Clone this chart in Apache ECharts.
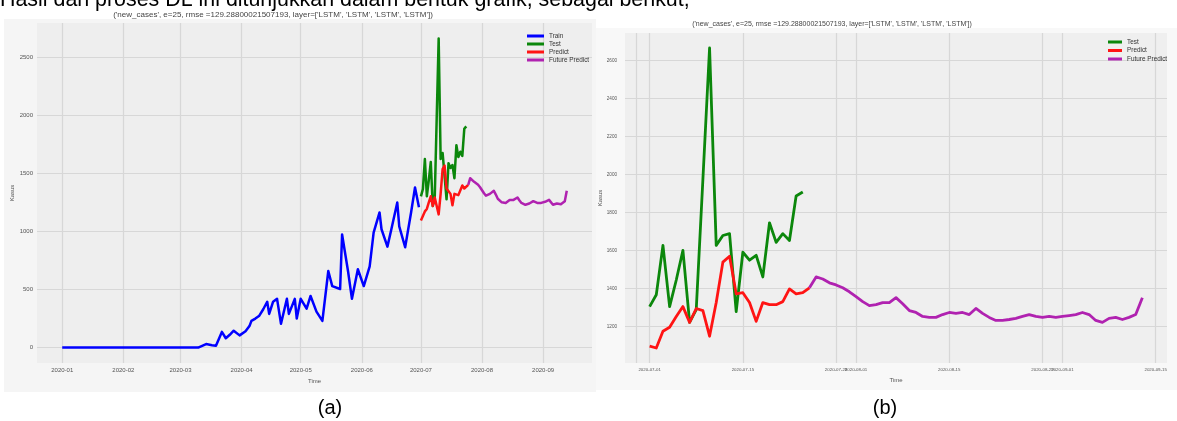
<!DOCTYPE html>
<html>
<head>
<meta charset="utf-8">
<script src="https://cdn.jsdelivr.net/npm/echarts@6/dist/echarts.min.js"></script>
<style>
  html, body { margin: 0; padding: 0; background: #ffffff; }
  #chart { width: 1177px; height: 421px; }
</style>
</head>
<body>
<div id="chart"></div>
<script>
// ---- data: daily new cases ----
// Training history (vertices of the train curve)
const trainDates = [
  '2020-01-01', '2020-03-10', '2020-03-14', '2020-03-17', '2020-03-19', '2020-03-22',
  '2020-03-24', '2020-03-26', '2020-03-28', '2020-03-31', '2020-04-03', '2020-04-05',
  '2020-04-06', '2020-04-08', '2020-04-10', '2020-04-12', '2020-04-14', '2020-04-15',
  '2020-04-17', '2020-04-19', '2020-04-21', '2020-04-24', '2020-04-25', '2020-04-28',
  '2020-04-29', '2020-05-01', '2020-05-04', '2020-05-06', '2020-05-09', '2020-05-12',
  '2020-05-15', '2020-05-17', '2020-05-21', '2020-05-22', '2020-05-25', '2020-05-27',
  '2020-05-30', '2020-06-02', '2020-06-05', '2020-06-07', '2020-06-10', '2020-06-11',
  '2020-06-14', '2020-06-16', '2020-06-19', '2020-06-20', '2020-06-23', '2020-06-26',
  '2020-06-28', '2020-06-30'
];
const trainValues = [
  0, 0, 30, 20, 15, 135,
  80, 110, 145, 105, 140, 185,
  230, 250, 275, 330, 395, 290,
  395, 420, 205, 420, 290, 420,
  250, 420, 335, 445, 310, 230,
  660, 530, 505, 975, 660, 420,
  675, 530, 700, 990, 1165, 1020,
  870, 1020, 1250, 1045, 865, 1165,
  1380, 1210
];

// Test set (daily from testStart)
const testStart = '2020-07-01';
const testValues = [
  1304, 1366, 1626, 1304, 1444, 1600, 1221, 1288, 1974, 2665, 1626, 1678,
  1688, 1278, 1590, 1548, 1574, 1460, 1745, 1642, 1688, 1652, 1886, 1907
];

// Model prediction over the test period (daily from testStart)
const predictValues = [
  1096, 1086, 1174, 1195, 1252, 1304, 1221, 1294, 1283, 1148, 1325, 1538,
  1569, 1371, 1377, 1325, 1226, 1325, 1314, 1314, 1330, 1397, 1371, 1377, 1403
];

// Forecast beyond the test period (daily from futureStart)
const futureStart = '2020-07-25';
const futureValues = [
  1403, 1460, 1449, 1429, 1418, 1403, 1382, 1356, 1330, 1309, 1314, 1325, 1325,
  1351, 1319, 1283, 1273, 1252, 1247, 1247, 1262, 1273, 1268, 1273, 1262, 1294,
  1268, 1247, 1231, 1231, 1236, 1242, 1252, 1262, 1252, 1247, 1252, 1247, 1252,
  1257, 1262, 1273, 1262, 1231, 1221, 1242, 1247, 1236, 1247, 1262, 1351
];

// Tick positions
const monthTicks = ['2020-01-01', '2020-02-01', '2020-03-01', '2020-04-01', '2020-05-01',
                    '2020-06-01', '2020-07-01', '2020-08-01', '2020-09-01'];
const detailTicks = ['2020-06-29', '2020-07-01', '2020-07-15', '2020-07-29', '2020-08-01',
                     '2020-08-15', '2020-08-29', '2020-09-01', '2020-09-15'];
const yTicksFull = [0, 500, 1000, 1500, 2000, 2500];
const yTicksDetail = [1200, 1400, 1600, 1800, 2000, 2200, 2400, 2600];

const headingText = 'Hasil dari proses DL ini ditunjukkan dalam bentuk grafik, sebagai berikut;';
const plotTitle = "('new_cases', e=25, rmse =129.28800021507193, layer=['LSTM', 'LSTM', 'LSTM', 'LSTM'])";
const seriesNames = ['Train', 'Test', 'Predict', 'Future Predict'];
const colors = { 'Train': '#0000ff', 'Test': '#0b870b', 'Predict': '#ff1414', 'Future Predict': '#b022b0' };

// ---- helpers: dates are placed on a day-number axis (days since EPOCH) ----
const DAY = 86400000;
const EPOCH = '2020-01-01';
function ms(s) {
  const p = s.split('-').map(Number);
  return Date.UTC(p[0], p[1] - 1, p[2]);
}
function dayNum(s) { return Math.round((ms(s) - ms(EPOCH)) / DAY); }
function daily(start, values) {
  const d0 = dayNum(start);
  return values.map((v, i) => [d0 + i, v]);
}
function pad2(n) { return (n < 10 ? '0' : '') + n; }
function toDate(n) { return new Date(ms(EPOCH) + Math.round(n) * DAY); }
function fmtMonth(n) { const d = toDate(n); return d.getUTCFullYear() + '-' + pad2(d.getUTCMonth() + 1); }
function fmtDay(n) { const d = toDate(n); return d.getUTCFullYear() + '-' + pad2(d.getUTCMonth() + 1) + '-' + pad2(d.getUTCDate()); }
function fmtPlain(v) { return String(Math.round(v)); }
function padded(lo, hi) { const m = (hi - lo) * 0.05; return [lo - m, hi + m]; }

const trainData = trainDates.map((d, i) => [dayNum(d), trainValues[i]]);
const testData = daily(testStart, testValues);
const predictData = daily(testStart, predictValues);
const futureData = daily(futureStart, futureValues);

const lastDay = futureData[futureData.length - 1][0];
const xRangeA = padded(trainData[0][0], lastDay);
const xRangeB = padded(testData[0][0], lastDay);
const allA = trainValues.concat(testValues, predictValues, futureValues);
const allB = testValues.concat(predictValues, futureValues);
const yRangeA = padded(Math.min.apply(null, allA), Math.max.apply(null, allA));
const yRangeB = padded(Math.min.apply(null, allB), Math.max.apply(null, allB));

const FONT = '"Liberation Sans", Arial, sans-serif';
const gridLine = { show: true, lineStyle: { color: '#d7d7d7', width: 1.2 } };

function xAxisCfg(gridIndex, range, ticks, fmt, fontSize, margin) {
  const tv = ticks.map(dayNum);
  return {
    type: 'value', gridIndex: gridIndex, min: range[0], max: range[1],
    axisLine: { show: false },
    axisTick: { show: false, customValues: tv },
    axisLabel: { customValues: tv, formatter: fmt, fontSize: fontSize, color: '#555', margin: margin, hideOverlap: false },
    splitLine: gridLine,
    name: 'Time', nameLocation: 'middle', nameGap: 14,
    nameTextStyle: { fontSize: 6, color: '#555' }
  };
}
function yAxisCfg(gridIndex, range, ticks, fontSize, margin, nameGap) {
  return {
    type: 'value', gridIndex: gridIndex, min: range[0], max: range[1],
    axisLine: { show: false },
    axisTick: { show: false, customValues: ticks },
    axisLabel: { customValues: ticks, formatter: fmtPlain, fontSize: fontSize, color: '#555', margin: margin },
    splitLine: gridLine,
    name: 'Kasus', nameLocation: 'middle', nameRotate: 90, nameGap: nameGap,
    nameTextStyle: { fontSize: 6, color: '#555' }
  };
}
function line(name, data, axisIndex, width) {
  return {
    name: name, type: 'line', data: data, xAxisIndex: axisIndex, yAxisIndex: axisIndex,
    showSymbol: false, symbol: 'none', silent: true,
    itemStyle: { color: colors[name] },
    lineStyle: { color: colors[name], width: width, join: 'round' }
  };
}
function textEl(text, x, y, size, color, align, vAlign) {
  return {
    type: 'text', z: 100,
    style: {
      text: text, x: x, y: y, fill: color, font: size + 'px ' + FONT,
      align: align, verticalAlign: vAlign, textAlign: align, textVerticalAlign: vAlign
    }
  };
}

const chart = echarts.init(document.getElementById('chart'), null, { renderer: 'canvas' });
chart.setOption({
  animation: false,
  backgroundColor: '#ffffff',
  textStyle: { fontFamily: FONT },
  grid: [
    { left: 37, top: 23, width: 555, height: 340, show: true, backgroundColor: '#eeeeee', borderWidth: 0 },
    { left: 625, top: 33, width: 542, height: 330, show: true, backgroundColor: '#efefef', borderWidth: 0 }
  ],
  xAxis: [
    xAxisCfg(0, xRangeA, monthTicks, fmtMonth, 6, 4),
    xAxisCfg(1, xRangeB, detailTicks, fmtDay, 4.4, 5)
  ],
  yAxis: [
    yAxisCfg(0, yRangeA, yTicksFull, 6, 4, 22),
    yAxisCfg(1, yRangeB, yTicksDetail, 4.6, 8, 20)
  ],
  legend: [
    {
      left: 522, top: 28, orient: 'vertical', data: seriesNames,
      icon: 'rect', itemWidth: 17, itemHeight: 3, itemGap: 2, selectedMode: false,
      textStyle: { fontSize: 6.4, color: '#333' }
    },
    {
      left: 1103, top: 34, orient: 'vertical', data: seriesNames.slice(1),
      icon: 'rect', itemWidth: 14, itemHeight: 3, itemGap: 2.5, selectedMode: false,
      textStyle: { fontSize: 6.4, color: '#333' }
    }
  ],
  series: [
    line('Train', trainData, 0, 2.5),
    line('Test', testData, 0, 2.5),
    line('Predict', predictData, 0, 2.5),
    line('Future Predict', futureData, 0, 2.5),
    line('Test', testData, 1, 2.8),
    line('Predict', predictData, 1, 2.8),
    line('Future Predict', futureData, 1, 2.8)
  ],
  graphic: [
    { type: 'rect', z: -10, shape: { x: 4, y: 19, width: 592, height: 373 }, style: { fill: '#f5f5f5' } },
    { type: 'rect', z: -10, shape: { x: 596, y: 28, width: 581, height: 362 }, style: { fill: '#f8f8f8' } },
    textEl(headingText, 0, 11, 21.4, '#000000', 'left', 'bottom'),
    textEl(plotTitle, 273, 15, 8, '#444444', 'center', 'middle'),
    textEl(plotTitle, 832, 24, 7, '#444444', 'center', 'middle'),
    textEl('(a)', 330, 408, 20, '#000000', 'center', 'middle'),
    textEl('(b)', 885, 408, 20, '#000000', 'center', 'middle')
  ]
});
</script>
</body>
</html>
